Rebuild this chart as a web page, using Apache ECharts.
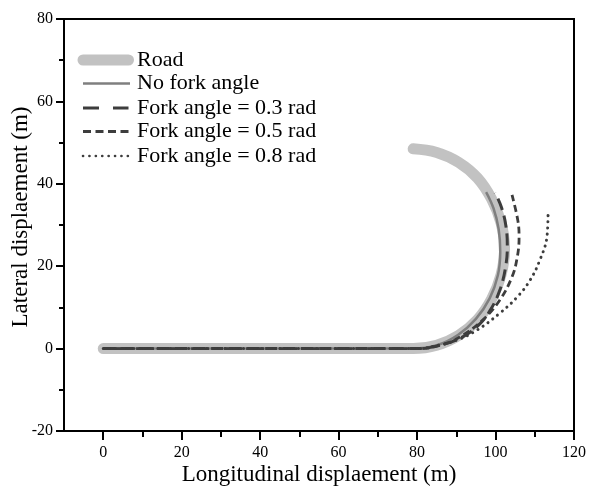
<!DOCTYPE html>
<html><head><meta charset="utf-8">
<script src="https://cdn.jsdelivr.net/npm/echarts@6/dist/echarts.min.js"></script>
<style>html,body{margin:0;padding:0;background:#fff}#c{width:589px;height:489px}</style>
</head><body><div id="c"></div>
<script>
const seriesNames = ['Road', 'No fork angle', 'Fork angle = 0.3 rad', 'Fork angle = 0.5 rad', 'Fork angle = 0.8 rad'];
const xTickLabels = [0, 20, 40, 60, 80, 100, 120];
const xMinorTicks = [10, 30, 50, 70, 90, 110];

const road = [[0,0],[79,0],[85,0.8],[90.6,3.2],[95.4,7],[99,12],[101.4,17.9],[102.3,24.2],[101.4,30.5],[99,36.3],[95.4,41.4],[90.6,45.2],[85,47.6],[79,48.5]];
const noFork = [[0,0],[79,0],[85,0.8],[90.4,3.3],[95,7.2],[98.5,12.2],[100.6,17.8],[101.2,23.5],[100.8,29],[99.5,34],[97.6,38]];
const fork03 = [[0,0],[80,0],[86,0.9],[91.5,2.8],[96,6],[98.7,9.4],[101.1,14.2],[102.6,20],[103,25],[102.6,30],[101.5,34.3],[99.9,37.8]];
const fork05 = [[0,0],[80,0],[86,0.8],[90.9,2.8],[96.8,7],[101.1,11.8],[104.2,17.4],[105.5,22],[106,27],[105.7,31],[104.2,37.3]];
const fork08 = [[0,0],[80,0],[85,0.7],[90.2,2.1],[95.3,4.5],[101.1,8.6],[105.5,12.5],[108.8,16.6],[111.3,21.5],[113.1,27.1],[113.4,33.2]];

const FONT = '"Liberation Serif", "Times New Roman", serif';
const styles = [
  {color: '#c2c2c2', width: 11, dash: 'solid', cap: 'round', legendDash: null, legendWidth: 11},
  {color: '#7f7f7f', width: 2.5, dash: 'solid', cap: 'butt', legendDash: null, legendWidth: 2.5},
  {color: '#3d3d3d', width: 3, dash: [12, 6], cap: 'butt', legendDash: [16, 14], legendWidth: 3.2},
  {color: '#3d3d3d', width: 2.8, dash: [7, 4], cap: 'butt', legendDash: [8, 4.5], legendWidth: 3},
  {color: '#3d3d3d', width: 3, dash: [0.1, 6], cap: 'round', legendDash: [0.1, 6.3], legendWidth: 2.6}
];
const dataSets = [road, noFork, fork03, fork05, fork08];

const chart = echarts.init(document.getElementById('c'), null, {renderer: 'canvas'});

const series = dataSets.map((d, i) => ({
  name: seriesNames[i], type: 'line', data: d, smooth: 0.4, symbol: 'none',
  xAxisIndex: 0, yAxisIndex: 0,
  lineStyle: {color: styles[i].color, width: styles[i].width, type: styles[i].dash, cap: styles[i].cap},
  itemStyle: {color: styles[i].color},
  emphasis: {disabled: true}, silent: true
}));

// legend drawn as graphic (icons + real text)
const legendRowY = [60, 83.5, 108, 131.5, 156];
const legendGraphics = [];
seriesNames.forEach((n, i) => {
  const s = styles[i];
  const x1 = 83, x2 = i === 1 ? 130 : 128.5;
  legendGraphics.push({
    type: 'line', silent: true,
    shape: {x1, y1: legendRowY[i], x2, y2: legendRowY[i]},
    style: {stroke: s.color, lineWidth: s.legendWidth, lineDash: s.legendDash, lineCap: s.cap}
  });
  legendGraphics.push({
    type: 'text', silent: true, x: 137, y: legendRowY[i],
    style: {text: n, font: '22px ' + FONT, fill: '#000', textVerticalAlign: 'middle', verticalAlign: 'middle'}
  });
});

chart.setOption({
  animation: false,
  grid: {left: 64, right: 15, top: 19, bottom: 58, containLabel: false, outerBoundsMode: 'none',
         show: true, borderColor: '#000', borderWidth: 2, backgroundColor: 'transparent'},
  graphic: legendGraphics,
  xAxis: [{
    type: 'value', min: -10, max: 120, position: 'bottom',
    name: 'Longitudinal displaement (m)', nameLocation: 'middle', nameGap: 32, nameMoveOverlap: false,
    nameTextStyle: {fontFamily: FONT, fontSize: 23, color: '#000'},
    axisLine: {show: true, onZero: false, lineStyle: {color: '#000', width: 2}},
    axisTick: {show: true, customValues: xTickLabels, length: 9, lineStyle: {color: '#000', width: 2}},
    axisLabel: {customValues: xTickLabels, fontFamily: FONT, fontSize: 16, color: '#000', margin: 14},
    splitLine: {show: false}
  }, {
    type: 'value', min: -10, max: 120, position: 'bottom', offset: 0,
    axisLine: {show: false, onZero: false},
    axisTick: {show: true, customValues: xMinorTicks, length: 6, lineStyle: {color: '#000', width: 2}},
    axisLabel: {show: false},
    splitLine: {show: false}
  }],
  yAxis: {
    type: 'value', min: -20, max: 80, interval: 20,
    name: 'Lateral displaement (m)', nameLocation: 'middle', nameGap: 32, nameMoveOverlap: false,
    nameTextStyle: {fontFamily: FONT, fontSize: 23, color: '#000', padding: [0, 0, 0, 16]},
    axisLine: {show: true, onZero: false, lineStyle: {color: '#000', width: 2}},
    axisTick: {show: true, length: 8, lineStyle: {color: '#000', width: 2}},
    minorTick: {show: true, splitNumber: 2, length: 5, lineStyle: {color: '#000', width: 2}},
    axisLabel: {fontFamily: FONT, fontSize: 16, color: '#000', margin: 11},
    splitLine: {show: false}
  },
  series
});
</script></body></html>
